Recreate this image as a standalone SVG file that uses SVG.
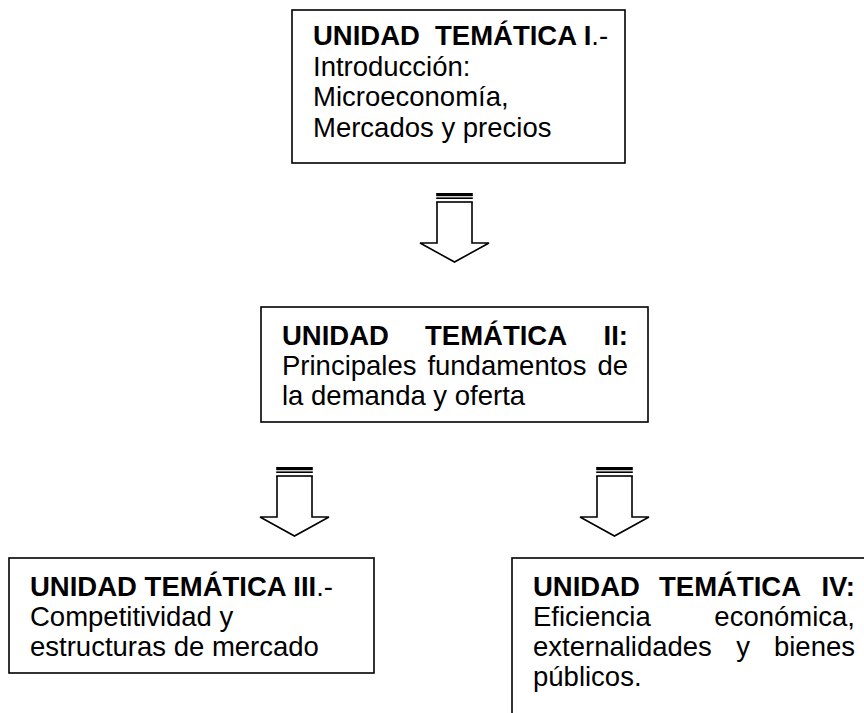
<svg xmlns="http://www.w3.org/2000/svg" width="864" height="713" viewBox="0 0 864 713">
<style>
.box{fill:#fff;stroke:#000;stroke-width:1.6}
text{font-family:"Liberation Sans",Arial,sans-serif;font-size:27.5px;fill:#000}
.b{font-weight:bold}
.e{text-anchor:end}
.arr{fill:#fff;stroke:#000;stroke-width:1.6;stroke-linejoin:miter}
</style>
<defs>
<g id="arrow">
<path class="arr" d="M17,9 L17,50 L0,50 L34.5,69 L69,50 L52,50 L52,9"/>
<rect x="16.2" y="0" width="36.6" height="3.2" fill="#000"/>
<rect x="16.2" y="4.4" width="36.6" height="1.6" fill="#000"/>
<rect x="16.2" y="8.2" width="36.6" height="1.6" fill="#000"/>
</g>
</defs>
<rect width="864" height="713" fill="#fff"/>
<g id="connectors">
<use href="#arrow" x="420" y="193"/>
<use href="#arrow" x="260" y="467"/>
<use href="#arrow" x="580" y="467"/>
</g>
<g id="unidad1">
<rect class="box" x="292" y="10" width="333" height="153"/>
<text x="313" y="45"><tspan class="b">UNIDAD</tspan></text>
<text x="435" y="45"><tspan class="b">TEMÁTICA I</tspan>.-</text>
<text x="313" y="75.5">Introducción:</text>
<text x="313" y="106">Microeconomía,</text>
<text x="313" y="136.5">Mercados y precios</text>
</g>
<g id="unidad2">
<rect class="box" x="261" y="307" width="387" height="115"/>
<text class="b" x="282" y="345">UNIDAD</text>
<text class="b" x="425" y="345">TEMÁTICA</text>
<text class="b e" x="628" y="345">II:</text>
<text x="282" y="375">Principales</text>
<text x="427.4" y="375">fundamentos</text>
<text class="e" x="628" y="375">de</text>
<text x="282" y="405">la demanda y oferta</text>
</g>
<g id="unidad3">
<rect class="box" x="9" y="558" width="365" height="115"/>
<text x="30" y="596"><tspan class="b">UNIDAD TEMÁTICA III</tspan>.-</text>
<text x="30" y="626">Competitividad y</text>
<text x="30" y="656">estructuras de mercado</text>
</g>
<g id="unidad4">
<rect class="box" x="512" y="558" width="380" height="200"/>
<text class="b" x="533" y="596">UNIDAD</text>
<text class="b" x="659" y="596">TEMÁTICA</text>
<text class="b e" x="855" y="596">IV:</text>
<text x="533" y="626">Eficiencia</text>
<text class="e" x="855" y="626">económica,</text>
<text x="533" y="656">externalidades</text>
<text x="743" y="656" text-anchor="middle">y</text>
<text class="e" x="855" y="656">bienes</text>
<text x="533" y="686">públicos.</text>
</g>
</svg>
